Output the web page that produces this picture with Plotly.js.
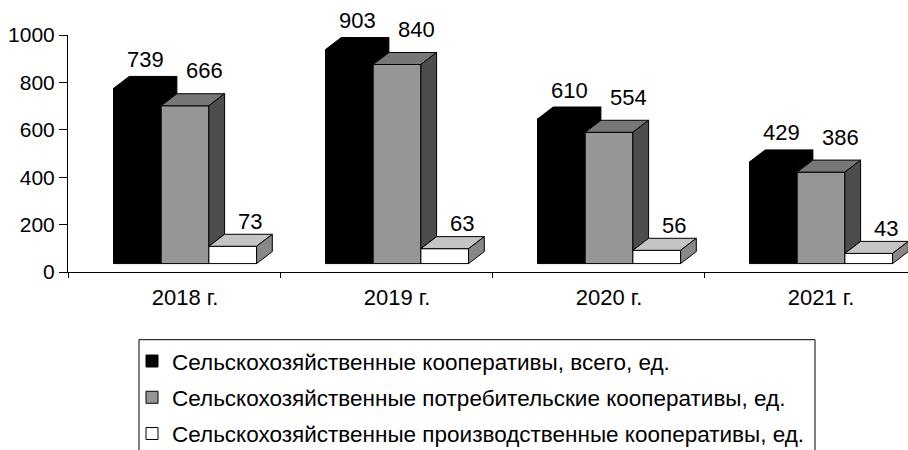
<!DOCTYPE html>
<html><head><meta charset="utf-8">
<script src="https://cdn.plot.ly/plotly-3.0.1.min.js"></script>
<style>html,body{margin:0;padding:0;background:#fff;overflow:hidden}</style>
</head><body><div id="chart" style="width:908px;height:450px"></div>
<script>
const categories = ['2018 г.', '2019 г.', '2020 г.', '2021 г.'];
const seriesNames = [
  'Сельскохозяйственные кооперативы, всего, ед.',
  'Сельскохозяйственные потребительские кооперативы, ед.',
  'Сельскохозяйственные производственные кооперативы, ед.'
];
const totalCoops = [739, 903, 610, 429];
const consumerCoops = [666, 840, 554, 386];
const productionCoops = [73, 63, 56, 43];
const yTickVals = [0, 200, 400, 600, 800, 1000];

const W = 908, H = 450;
const M = {l: 68, r: 0, t: 35, b: 450 - 271.7};
const plotW = W - M.l - M.r;
const plotH = H - M.t - M.b;
const catPx = 212;
const xMin = -0.5, xMax = xMin + plotW / catPx;
const yMin = 0, yMax = 1000;
const pxPerUnitY = plotH / (yMax - yMin);
const px2x = p => p / catPx, px2y = p => p / pxPerUnitY;

const barW = px2x(47.7);
const groupLeft = px2x(-60.5);
const depthX = px2x(15.7), depthY = px2y(12);
const floorV = px2y(8.4);
const FONT = 'Liberation Sans, Arial, sans-serif';

const series = [
  {name: seriesNames[0], values: totalCoops, front: '#000000', top: '#000000', side: '#000000', lblDx: 8, lblDy: 29},
  {name: seriesNames[1], values: consumerCoops, front: '#969696', top: '#777777', side: '#4d4d4d', lblDx: 19, lblDy: 35},
  {name: seriesNames[2], values: productionCoops, front: '#ffffff', top: '#c4c4c4', side: '#888888', lblDx: 17, lblDy: 25}
];

const traces = [];
const annotations = [];
const idx = categories.map((c, i) => i);

series.forEach((s, k) => {
  const leftOff = groupLeft + k * barW;
  traces.push({
    type: 'bar', name: s.name, x: idx, y: s.values, base: floorV,
    offset: leftOff, width: barW, legendgroup: 'g' + k,
    marker: {color: s.front, line: {color: '#000', width: 1}},
    hoverinfo: 'skip'
  });
  const tx = [], ty = [], sx = [], sy = [];
  s.values.forEach((v, i) => {
    const x0 = i + leftOff, x1 = x0 + barW, t = floorV + v;
    tx.push(x0, x0 + depthX, x1 + depthX, x1, x0, null);
    ty.push(t, t + depthY, t + depthY, t, t, null);
    let bottom = floorV;
    if (k < series.length - 1) bottom = floorV + Math.min(series[k + 1].values[i], v);
    sx.push(x1, x1, x1 + depthX, x1 + depthX, x1, null);
    sy.push(bottom, t, t + depthY, bottom + depthY, bottom, null);
    annotations.push({
      x: i + leftOff + barW / 2, y: t, xref: 'x', yref: 'y',
      xshift: s.lblDx, yshift: s.lblDy, showarrow: false,
      text: String(v), xanchor: 'center', yanchor: 'middle',
      font: {family: FONT, size: 22, color: '#000'}
    });
  });
  traces.push({type: 'scatter', mode: 'lines', x: tx, y: ty, fill: 'toself', fillcolor: s.top,
    line: {color: '#000', width: 1}, showlegend: false, hoverinfo: 'skip', cliponaxis: false});
  traces.push({type: 'scatter', mode: 'lines', x: sx, y: sy, fill: 'toself', fillcolor: s.side,
    line: {color: '#000', width: 1}, showlegend: false, hoverinfo: 'skip', cliponaxis: false});
});
traces.push({type: 'scatter', x: [], y: [], xaxis: 'x2', showlegend: false, hoverinfo: 'skip'});

const legX = 132, legTop = 339.5;
const layout = {
  width: W, height: H,
  margin: {l: M.l, r: M.r, t: M.t, b: M.b, autoexpand: false},
  paper_bgcolor: '#fff', plot_bgcolor: 'rgba(0,0,0,0)',
  barmode: 'overlay', showlegend: true,
  font: {family: FONT, color: '#000'},
  xaxis: {type: 'linear', range: [xMin, xMax], tickvals: idx, ticktext: categories,
    ticks: '', showgrid: false, zeroline: false, showline: true, linecolor: '#000', linewidth: 1,
    ticklabelshift: 11, ticklabelstandoff: 6, tickfont: {family: FONT, size: 22, color: '#000'}, fixedrange: true},
  xaxis2: {type: 'linear', overlaying: 'x', anchor: 'y', range: [xMin, xMax],
    tickvals: [-0.5, 0.5, 1.5, 2.5, 3.5], ticks: 'outside', ticklen: 5, tickcolor: '#000', tickwidth: 1,
    showticklabels: false, showgrid: false, zeroline: false, showline: false, side: 'bottom'},
  yaxis: {range: [yMin, yMax], tickvals: yTickVals, ticks: 'outside', ticklen: 8, tickcolor: '#000', tickwidth: 1,
    showline: true, linecolor: '#000', linewidth: 1, showgrid: false, zeroline: false,
    ticklabelstandoff: 0, tickfont: {family: FONT, size: 21, color: '#000'}, fixedrange: true},
  legend: {orientation: 'v', x: (legX - M.l) / plotW, xanchor: 'left',
    y: (271.7 - legTop) / plotH, yanchor: 'top', traceorder: 'grouped', tracegroupgap: 4,
    bgcolor: 'rgba(0,0,0,0)', borderwidth: 0, font: {family: FONT, size: 22.5, color: '#000'}},
  shapes: [{type: 'rect', xref: 'paper', yref: 'paper',
    x0: (139 - M.l) / plotW, x1: (815 - M.l) / plotW,
    y0: (271.7 - 339.3) / plotH, y1: (271.7 - 470) / plotH,
    line: {color: '#000', width: 1}, fillcolor: 'rgba(0,0,0,0)', layer: 'below'}],
  annotations: annotations
};
Plotly.newPlot('chart', traces, layout, {displayModeBar: false, staticPlot: true});
</script></body></html>
